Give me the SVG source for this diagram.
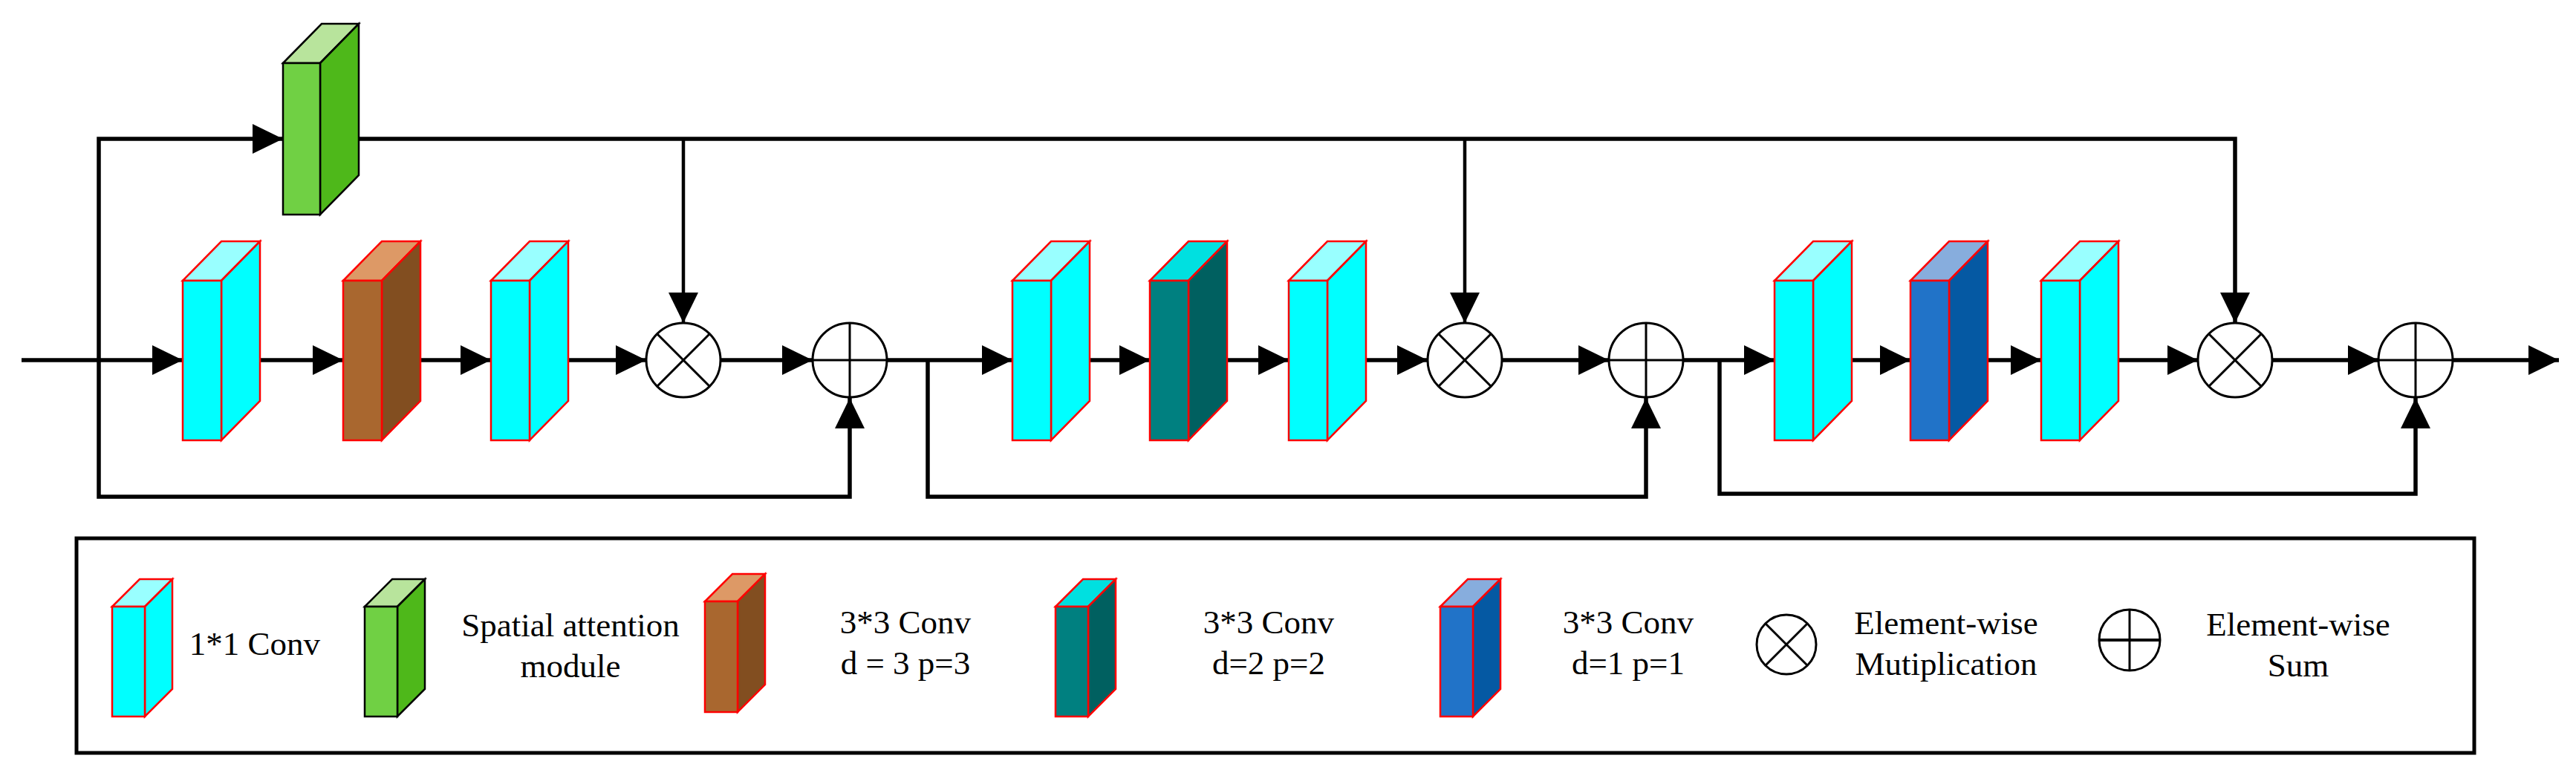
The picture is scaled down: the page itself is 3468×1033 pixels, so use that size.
<svg xmlns="http://www.w3.org/2000/svg" width="3468" height="1033" viewBox="0 0 3468 1033">
<defs>
<marker id="ah" markerUnits="userSpaceOnUse" markerWidth="42" markerHeight="42" refX="41" refY="20" orient="auto"><path d="M0,0 L41,20 L0,40 z" fill="#000"/></marker>
</defs>
<style>
.ln{fill:none;stroke:#000;stroke-width:5.5}
.lt{fill:none;stroke:#000;stroke-width:4.5}
.op{fill:#fff;stroke:#000;stroke-width:3}
.sy{stroke:#000;stroke-width:3}
.b{stroke:#f00;stroke-width:2.5}
.g{stroke:#000;stroke-width:2.5}
.cf{fill:#00ffff}.cs{fill:#00ffff}.ct{fill:#99ffff}
.bf{fill:#a9672f}.bs{fill:#824e20}.bt{fill:#dd9966}
.gf{fill:#70d044}.gs{fill:#4eb81a}.gt{fill:#b8e49c}
.tf{fill:#008080}.ts{fill:#006060}.tt{fill:#00e0e0}
.uf{fill:#2173c8}.us{fill:#0559a3}.ut{fill:#87addd}
text{font-family:"Liberation Serif","Times New Roman",serif;font-size:45px;fill:#000;text-anchor:middle}
</style>
<g id="connectors">
<polyline class="ln" points="29,485 246,485" marker-end="url(#ah)"/>
<polyline class="ln" points="350,485 462,485" marker-end="url(#ah)"/>
<polyline class="ln" points="564,485 661,485" marker-end="url(#ah)"/>
<polyline class="ln" points="763,485 870,485" marker-end="url(#ah)"/>
<polyline class="ln" points="970,485 1094,485" marker-end="url(#ah)"/>
<polyline class="ln" points="1194,485 1363,485" marker-end="url(#ah)"/>
<polyline class="ln" points="1467,485 1548,485" marker-end="url(#ah)"/>
<polyline class="ln" points="1652,485 1735,485" marker-end="url(#ah)"/>
<polyline class="ln" points="1839,485 1922,485" marker-end="url(#ah)"/>
<polyline class="ln" points="2022,485 2166,485" marker-end="url(#ah)"/>
<polyline class="ln" points="2266,485 2389,485" marker-end="url(#ah)"/>
<polyline class="ln" points="2493,485 2572,485" marker-end="url(#ah)"/>
<polyline class="ln" points="2676,485 2748,485" marker-end="url(#ah)"/>
<polyline class="ln" points="2852,485 2959,485" marker-end="url(#ah)"/>
<polyline class="ln" points="3059,485 3202,485" marker-end="url(#ah)"/>
<polyline class="ln" points="3302,485 3445,485" marker-end="url(#ah)"/>
<polyline class="ln" points="133,485 133,187 381,187" marker-end="url(#ah)"/>
<polyline class="ln" points="483,187 3009,187 3009,435" marker-end="url(#ah)"/>
<polyline class="lt" points="920,187 920,435" marker-end="url(#ah)"/>
<polyline class="lt" points="1972,187 1972,435" marker-end="url(#ah)"/>
<polyline class="ln" points="133,485 133,669 1144,669 1144,536" marker-end="url(#ah)"/>
<polyline class="ln" points="1249,485 1249,669 2216,669 2216,536" marker-end="url(#ah)"/>
<polyline class="ln" points="2315,485 2315,665 3252,665 3252,536" marker-end="url(#ah)"/>
</g>
<g id="sam">
<polygon class="gt g" points="381,85 433,32 483,32 431,85"/>
<polygon class="gs g" points="431,85 483,32 483,236 431,289"/>
<rect class="gf g" x="381" y="85" width="50" height="204"/>
</g>
<g id="conv1a"><polygon class="ct b" points="246,378 298,325 350,325 298,378"/><polygon class="cs b" points="298,378 350,325 350,540 298,593"/><rect class="cf b" x="246" y="378" width="52" height="215"/></g>
<g id="conv3a"><polygon class="bt b" points="462,378 514,325 566,325 514,378"/><polygon class="bs b" points="514,378 566,325 566,540 514,593"/><rect class="bf b" x="462" y="378" width="52" height="215"/></g>
<g id="conv1b"><polygon class="ct b" points="661,378 713,325 765,325 713,378"/><polygon class="cs b" points="713,378 765,325 765,540 713,593"/><rect class="cf b" x="661" y="378" width="52" height="215"/></g>
<g id="mul1"><circle class="op" cx="920" cy="485" r="50"/><path class="sy" d="M885,450 L955,520 M955,450 L885,520"/></g>
<g id="sum1"><circle class="op" cx="1144" cy="485" r="50"/><path class="sy" d="M1094,485 H1194 M1144,435 V535"/></g>
<g id="conv1c"><polygon class="ct b" points="1363,378 1415,325 1467,325 1415,378"/><polygon class="cs b" points="1415,378 1467,325 1467,540 1415,593"/><rect class="cf b" x="1363" y="378" width="52" height="215"/></g>
<g id="conv3b"><polygon class="tt b" points="1548,378 1600,325 1652,325 1600,378"/><polygon class="ts b" points="1600,378 1652,325 1652,540 1600,593"/><rect class="tf b" x="1548" y="378" width="52" height="215"/></g>
<g id="conv1d"><polygon class="ct b" points="1735,378 1787,325 1839,325 1787,378"/><polygon class="cs b" points="1787,378 1839,325 1839,540 1787,593"/><rect class="cf b" x="1735" y="378" width="52" height="215"/></g>
<g id="mul2"><circle class="op" cx="1972" cy="485" r="50"/><path class="sy" d="M1937,450 L2007,520 M2007,450 L1937,520"/></g>
<g id="sum2"><circle class="op" cx="2216" cy="485" r="50"/><path class="sy" d="M2166,485 H2266 M2216,435 V535"/></g>
<g id="conv1e"><polygon class="ct b" points="2389,378 2441,325 2493,325 2441,378"/><polygon class="cs b" points="2441,378 2493,325 2493,540 2441,593"/><rect class="cf b" x="2389" y="378" width="52" height="215"/></g>
<g id="conv3c"><polygon class="ut b" points="2572,378 2624,325 2676,325 2624,378"/><polygon class="us b" points="2624,378 2676,325 2676,540 2624,593"/><rect class="uf b" x="2572" y="378" width="52" height="215"/></g>
<g id="conv1f"><polygon class="ct b" points="2748,378 2800,325 2852,325 2800,378"/><polygon class="cs b" points="2800,378 2852,325 2852,540 2800,593"/><rect class="cf b" x="2748" y="378" width="52" height="215"/></g>
<g id="mul3"><circle class="op" cx="3009" cy="485" r="50"/><path class="sy" d="M2974,450 L3044,520 M3044,450 L2974,520"/></g>
<g id="sum3"><circle class="op" cx="3252" cy="485" r="50"/><path class="sy" d="M3202,485 H3302 M3252,435 V535"/></g>
<g id="legend">
<rect x="103" y="725" width="3228" height="289" fill="none" stroke="#000" stroke-width="5"/>
<g id="lg-conv1"><polygon class="ct b" points="151,817 188,780 232,780 195,817"/><polygon class="cs b" points="195,817 232,780 232,928 195,965"/><rect class="cf b" x="151" y="817" width="44" height="148"/><text x="343" y="882">1*1 Conv</text></g>
<g id="lg-sam"><polygon class="gt g" points="491,817 528,780 572,780 535,817"/><polygon class="gs g" points="535,817 572,780 572,928 535,965"/><rect class="gf g" x="491" y="817" width="44" height="148"/><text x="768" y="857">Spatial attention</text><text x="768" y="912">module</text></g>
<g id="lg-d3"><polygon class="bt b" points="949,810 986,773 1030,773 993,810"/><polygon class="bs b" points="993,810 1030,773 1030,922 993,959"/><rect class="bf b" x="949" y="810" width="44" height="149"/><text x="1219" y="853">3*3 Conv</text><text x="1219" y="908">d = 3 p=3</text></g>
<g id="lg-d2"><polygon class="tt b" points="1421,817 1458,780 1502,780 1465,817"/><polygon class="ts b" points="1465,817 1502,780 1502,928 1465,965"/><rect class="tf b" x="1421" y="817" width="44" height="148"/><text x="1708" y="853">3*3 Conv</text><text x="1708" y="908">d=2 p=2</text></g>
<g id="lg-d1"><polygon class="ut b" points="1939,817 1976,780 2020,780 1983,817"/><polygon class="us b" points="1983,817 2020,780 2020,928 1983,965"/><rect class="uf b" x="1939" y="817" width="44" height="148"/><text x="2192" y="853">3*3 Conv</text><text x="2192" y="908">d=1 p=1</text></g>
<g id="lg-mul"><circle class="op" cx="2405" cy="868" r="40"/><path class="sy" d="M2377,840 L2433,896 M2433,840 L2377,896"/><text x="2620" y="854">Element-wise</text><text x="2620" y="909">Mutiplication</text></g>
<g id="lg-sum"><circle class="op" cx="2867" cy="862" r="41"/><path class="sy" d="M2867,821 V903"/><path d="M2826,862 H2908" stroke="#000" stroke-width="4"/><text x="3094" y="856">Element-wise</text><text x="3094" y="911">Sum</text></g>
</g>
</svg>
